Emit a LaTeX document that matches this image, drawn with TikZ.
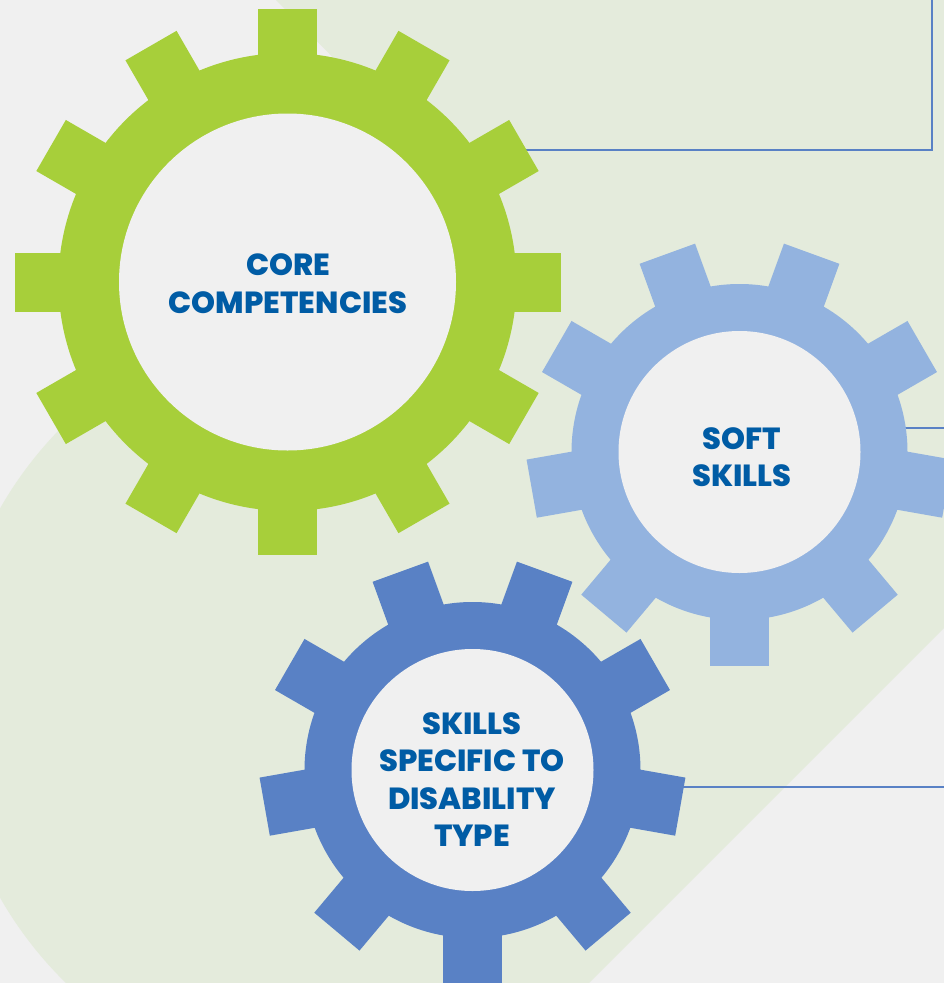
\documentclass[tikz,border=0pt]{standalone}
\usepackage{fontspec}
\setmainfont{Poppins}
\newfontface\heavyface{Poppins ExtraBold}
\usetikzlibrary{calc}
\definecolor{pagegray}{HTML}{F0F0F0}
\definecolor{blobgreen}{HTML}{E4EBDC}
\definecolor{coregreen}{HTML}{A7CF3A}
\definecolor{softblue}{HTML}{93B3DF}
\definecolor{deepblue}{HTML}{5981C5}
\definecolor{labelblue}{HTML}{005CA5}
\pgfdeclarelayer{back}
\pgfsetlayers{back,main}
\tikzset{
  hubdisc/.style={circle,fill=pagegray,inner sep=0pt,minimum size=#1},
  gearlabel/.style={text=labelblue,align=center,inner sep=0pt,font=\fontsize{30.5}{37.2}\selectfont\heavyface},
  linkline/.style={draw=deepblue,line width=2.8pt},
}
\newcommand{\cogteeth}[6]{% centre, colour, body radius, tip radius, start angle, second angle
  \fill[#2] (#1) circle (#3);
  \foreach \ang in {#5,#6,...,\numexpr #5+359\relax}
    \fill[#2,shift={(#1)},rotate=\ang] (0,-29.5) rectangle (#4,29.5);
}
\begin{document}
\begin{tikzpicture}[x=1pt,y=1pt]
\useasboundingbox (0,-983) rectangle (944,0);
\clip (0,-983) rectangle (944,0);
\begin{pgfonlayer}{back}
\fill[pagegray] (0,-983) rectangle (944,0);
\fill[blobgreen] (276,0) -- (944,0) -- (944,-628) -- (589,-983) -- (68,-983)
  -- (68,-985) arc[start angle=226,end angle=135,radius=392] -- (382,-107) -- cycle;
\end{pgfonlayer}
% gears
\coordinate (corec) at (287.5,-282);
\coordinate (softc) at (739.5,-452);
\coordinate (deepc) at (472.5,-770);
\cogteeth{softc}{softblue}{168}{211}{310}{350}
\fill[softblue,shift={(softc)},rotate=270] (0,-29.5) rectangle (214,29.5);
\node[hubdisc=242pt] (softhub) at (softc) {};
\cogteeth{deepc}{deepblue}{168}{211}{310}{350}
\fill[deepblue,shift={(deepc)},rotate=270] (0,-29.5) rectangle (214,29.5);
\node[hubdisc=242pt] (deephub) at (deepc) {};
\cogteeth{corec}{coregreen}{229}{273}{0}{30}
\node[hubdisc=337pt] (corehub) at (corec) {};
% connectors
\coordinate (boxcorner) at (932,-150);
\coordinate (boxtop) at (932,2);
\coordinate (softend) at (946,-428);
\coordinate (deepend) at (946,-787);
\begin{pgfonlayer}{back}
\draw[linkline] (corehub |- boxcorner) -- (boxcorner) -- (boxtop);
\draw[linkline] (softhub |- softend) -- (softend);
\draw[linkline] (deephub |- deepend) -- (deepend);
\end{pgfonlayer}
% labels
\node[gearlabel] (corelabel) at (288,-283.6) {CORE\\COMPETENCIES};
\node[gearlabel] (softlabel) at (742,-457.2) {SOFT\\SKILLS};
\node[gearlabel] (deeplabel) at (472,-779.6) {SKILLS\\SPECIFIC TO\\DISABILITY\\TYPE};
\end{tikzpicture}
\end{document}
